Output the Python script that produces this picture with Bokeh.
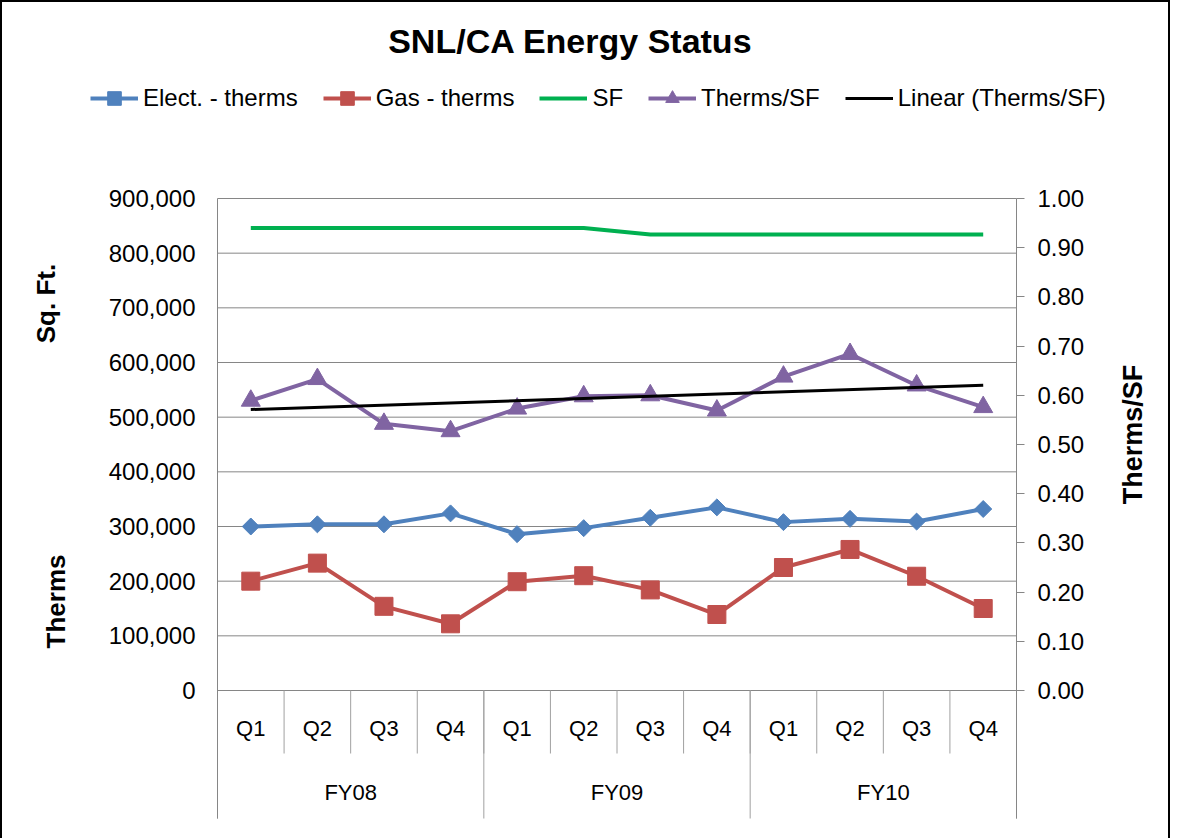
import numpy as np
from bokeh.plotting import figure
from bokeh.models import (Range1d, LinearAxis, FixedTicker, NumeralTickFormatter,
                          Legend, LegendItem, Label)
from bokeh.core.properties import value
from bokeh.embed import file_html
from bokeh.resources import INLINE

# ---------------- data ----------------
chart_title = "SNL/CA Energy Status"
fiscal_years = ["FY08", "FY09", "FY10"]
quarters = ["Q1", "Q2", "Q3", "Q4"]
elect_therms = [300000, 304000, 304000, 324000, 286000, 297000,
                316000, 335000, 308000, 314000, 309000, 332000]
gas_therms = [200000, 233000, 154000, 122000, 199000, 210000,
              184000, 139000, 225000, 258000, 209000, 150000]
sq_ft = [846000, 846000, 846000, 846000, 846000, 846000,
         834000, 834000, 834000, 834000, 834000, 834000]
therms_per_sf = [0.589, 0.633, 0.542, 0.527, 0.573, 0.598,
                 0.600, 0.569, 0.638, 0.684, 0.620, 0.576]
left_ticks = [0, 100000, 200000, 300000, 400000, 500000, 600000, 700000, 800000, 900000]
right_ticks = [0.0, 0.1, 0.2, 0.3, 0.4, 0.5, 0.6, 0.7, 0.8, 0.9, 1.0]
series_names = ["Elect. - therms", "Gas - therms", "SF", "Therms/SF", "Linear (Therms/SF)"]
left_titles = ["Sq. Ft.", "Therms"]
right_title = "Therms/SF"

# ---------------- layout (canvas px) ----------------
W, H = 1170, 838
CL, CR = 215, 1014                      # category area left / right
TOPGRID, ZERO, BOT = 196, 688, 816      # 900,000 line, zero line, bottom of separators
FONT = "Liberation Sans"
GRID = "#868686"
SEP = "#a0a0a0"

n = len(fiscal_years) * len(quarters)
xs = list(range(1, n + 1))
q_labels = quarters * len(fiscal_years)

x_per_px = n / (CR - CL)
x_lo, x_hi = 0.5, n + 0.5
y_max = left_ticks[-1]
y_per_px = y_max / (ZERO - TOPGRID)
r_max = right_ticks[-1]
r_per_px = r_max / (ZERO - TOPGRID)


def dx(px):
    return x_lo + (px - CL) * x_per_px


def dy(py):
    return (ZERO - py) * y_per_px


def dr(py):
    return (ZERO - py) * r_per_px


p = figure(width=W, height=H,
           x_range=Range1d(dx(0), dx(W)), y_range=Range1d(dy(H), dy(0)),
           title=None, x_axis_type=None, y_axis_type=None,
           output_backend="svg", toolbar_location=None,
           min_border_left=0, min_border_right=0, min_border_top=0, min_border_bottom=0)
p.outline_line_color = None
p.background_fill_color = "white"
p.border_fill_color = "white"
p.xgrid.visible = False
p.ygrid.visible = False
p.styles = {"border-top": "2px solid #000000", "border-left": "2px solid #000000",
            "border-right": "2px solid #000000"}

p.extra_y_ranges = {"ratio": Range1d(dr(H), dr(0))}

# horizontal gridlines at the left-axis ticks
p.segment(x0=[x_lo] * len(left_ticks), y0=left_ticks,
          x1=[x_hi] * len(left_ticks), y1=left_ticks,
          line_color=GRID, line_width=1)

# category separators below the axis
q_bounds = [x_lo + i for i in range(n + 1)]
p.segment(x0=q_bounds, y0=[0] * len(q_bounds), x1=q_bounds,
          y1=[dy(ZERO + 63)] * len(q_bounds), line_color=SEP, line_width=1)
fy_bounds = [x_lo + i * len(quarters) for i in range(len(fiscal_years) + 1)]
p.segment(x0=fy_bounds, y0=[0] * len(fy_bounds), x1=fy_bounds,
          y1=[dy(BOT)] * len(fy_bounds), line_color=SEP, line_width=1)

p.text(x=xs, y=[0] * n, text=q_labels, y_offset=38,
       text_align="center", text_baseline="middle",
       text_font=value(FONT), text_font_size="22px", text_color="black")
fy_x = [float(np.mean(xs[i * len(quarters):(i + 1) * len(quarters)]))
        for i in range(len(fiscal_years))]
p.text(x=fy_x, y=[0] * len(fy_x), text=fiscal_years, y_offset=102,
       text_align="center", text_baseline="middle",
       text_font=value(FONT), text_font_size="22px", text_color="black")

# axes (fixed at the edges of the category area)
left_axis = LinearAxis(ticker=FixedTicker(ticks=left_ticks), fixed_location=x_lo,
                       bounds=(dy(BOT), y_max),
                       formatter=NumeralTickFormatter(format="0,0"),
                       axis_line_color=GRID, major_tick_out=0, major_tick_in=0,
                       minor_tick_line_color=None,
                       major_label_text_font=FONT, major_label_text_font_size="24px",
                       major_label_text_color="black", major_label_standoff=22)
p.add_layout(left_axis, "left")

right_axis = LinearAxis(y_range_name="ratio", ticker=FixedTicker(ticks=right_ticks),
                        fixed_location=x_hi, bounds=(dr(BOT), r_max),
                        formatter=NumeralTickFormatter(format="0.00"),
                        axis_line_color=GRID, major_tick_out=8, major_tick_in=0,
                        major_tick_line_color=GRID, minor_tick_line_color=None,
                        major_label_text_font=FONT, major_label_text_font_size="24px",
                        major_label_text_color="black", major_label_standoff=13)
p.add_layout(right_axis, "right")

# series
BLUE, RED, GREEN, PURPLE = "#4F81BD", "#C0504D", "#00B050", "#8064A2"

e_line = p.line(xs, elect_therms, line_color=BLUE, line_width=4)
e_mark = p.scatter(xs, elect_therms, marker="square", angle=np.pi / 4, size=12,
                   fill_color=BLUE, line_color=BLUE)
g_line = p.line(xs, gas_therms, line_color=RED, line_width=4)
g_mark = p.scatter(xs, gas_therms, marker="square", size=18,
                   fill_color=RED, line_color=RED)
s_line = p.line(xs, sq_ft, line_color=GREEN, line_width=4)
t_line = p.line(xs, therms_per_sf, line_color=PURPLE, line_width=4, y_range_name="ratio")
t_mark = p.scatter(xs, therms_per_sf, marker="triangle", size=19,
                   fill_color=PURPLE, line_color=PURPLE, y_range_name="ratio")
coef = np.polyfit(xs, therms_per_sf, 1)
trend = [float(v) for v in np.polyval(coef, [xs[0], xs[-1]])]
l_line = p.line([xs[0], xs[-1]], trend, line_color="black", line_width=3,
                y_range_name="ratio")

legend = Legend(items=[
    LegendItem(label=series_names[0], renderers=[e_line, e_mark]),
    LegendItem(label=series_names[1], renderers=[g_line, g_mark]),
    LegendItem(label=series_names[2], renderers=[s_line]),
    LegendItem(label=series_names[3], renderers=[t_line, t_mark]),
    LegendItem(label=series_names[4], renderers=[l_line]),
], orientation="horizontal", location=(88, H - 113),
    label_text_font=FONT, label_text_font_size="24px", label_text_color="black",
    glyph_width=48, glyph_height=34, label_standoff=5, spacing=25, padding=0,
    margin=0, border_line_color=None, background_fill_alpha=0)
p.add_layout(legend)

# title and axis titles
p.add_layout(Label(x=dx(568), y=dy(38), text=chart_title, text_align="center",
                   text_baseline="middle", text_font=FONT, text_font_size="34px",
                   text_font_style="bold", text_color="black"))
p.add_layout(Label(x=dx(43), y=dy(301), text=left_titles[0], angle=np.pi / 2,
                   text_align="center", text_baseline="middle", text_font=FONT,
                   text_font_size="26px", text_font_style="bold", text_color="black"))
p.add_layout(Label(x=dx(53), y=dy(599), text=left_titles[1], angle=np.pi / 2,
                   text_align="center", text_baseline="middle", text_font=FONT,
                   text_font_size="26px", text_font_style="bold", text_color="black"))
p.add_layout(Label(x=dx(1130), y=dy(432), text=right_title, angle=np.pi / 2,
                   text_align="center", text_baseline="middle", text_font=FONT,
                   text_font_size="27px", text_font_style="bold", text_color="black"))

open("out.html", "w").write(file_html(p, INLINE))
